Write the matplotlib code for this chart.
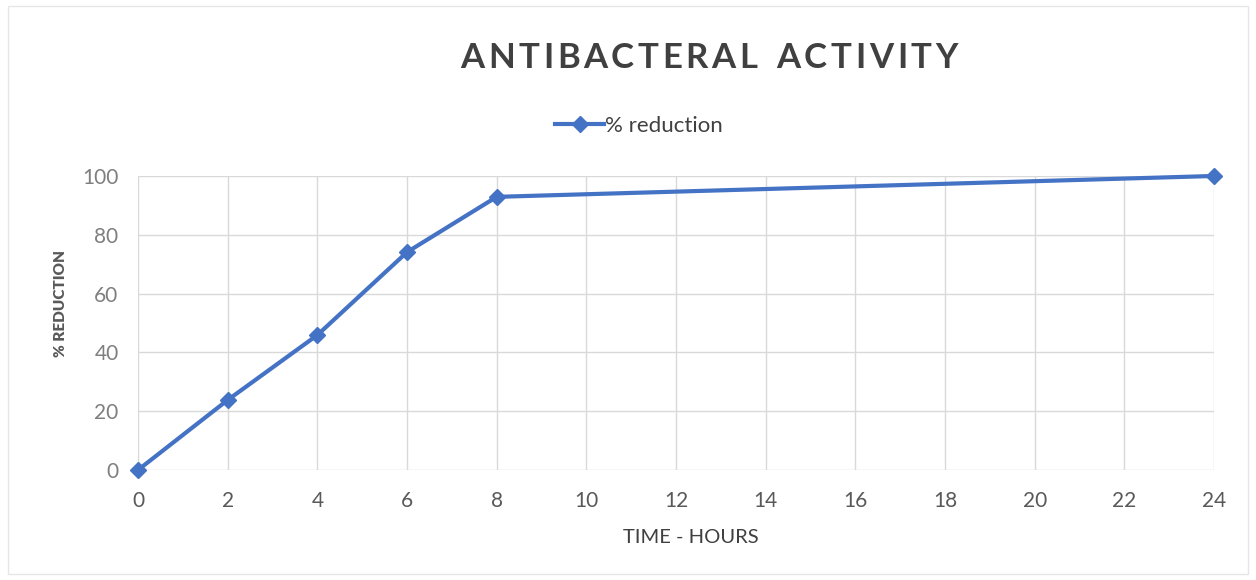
import matplotlib.pyplot as plt
from matplotlib.patches import Rectangle

# x axis is categorical in the original (24 sits right after 22)
time_labels = ["0", "2", "4", "6", "8", "10", "12", "14", "16", "18", "20", "22", "24"]
hours = ["0", "2", "4", "6", "8", "24"]
reduction = [0, 23.8, 45.9, 74.1, 92.9, 100]

plt.rcParams["font.family"] = ["Lato", "DejaVu Sans"]


def spaced_title(fig, xc, y, s, gap_px, **kw):
    # draw char by char so the letters get the wide tracking of the original
    r = fig.canvas.get_renderer()
    widths = []
    for ch in s:
        t = fig.text(0, 0, ch, **kw)
        widths.append(t.get_window_extent(r).width if ch != " " else None)
        t.remove()
    space_w = fig.text(0, 0, "n", **kw)
    sw = space_w.get_window_extent(r).width * 0.6
    space_w.remove()
    widths = [w if w is not None else sw for w in widths]
    total = sum(widths) + gap_px * (len(s) - 1)
    W = fig.get_figwidth() * fig.dpi
    x = xc * W - total / 2
    for ch, w in zip(s, widths):
        fig.text(x / W, y, ch, ha="left", va="center", **kw)
        x += w + gap_px


fig = plt.figure(figsize=(12.56, 5.8), dpi=100)
ax = fig.add_axes([0.1099, 0.1897, 0.8567, 0.5069])

pos = [time_labels.index(h) for h in hours]
line, = ax.plot(pos, reduction, color="#4472C4", linewidth=3, marker="D",
                markersize=8.5, markerfacecolor="#4472C4", markeredgecolor="#4472C4",
                label="% reduction", zorder=3, clip_on=False)

ax.set_xlim(0, len(time_labels) - 1)
ax.set_ylim(0, 100)
ax.set_xticks(range(len(time_labels)))
ax.set_xticklabels(time_labels)
ax.set_yticks([0, 20, 40, 60, 80, 100])
ax.grid(True, color="#d9d9d9", linewidth=1)
ax.set_axisbelow(True)
for s in ax.spines.values():
    s.set_visible(False)
ax.tick_params(length=0, labelsize=15, labelcolor="#7f7f7f")
ax.tick_params(axis="x", pad=15, labelcolor="#595959")
ax.tick_params(axis="y", pad=14)

ax.set_xlabel("TIME - HOURS", fontsize=14.5, color="#404040")
ax.xaxis.set_label_coords(0.5135, -0.2)
ax.set_ylabel("% REDUCTION", fontsize=11, color="#595959", fontweight="heavy")
ax.yaxis.set_label_coords(-0.066, 0.565)

spaced_title(fig, 0.5645, 0.90, "ANTIBACTERAL ACTIVITY", 3.6,
             fontsize=25, fontweight="bold", color="#404040")
fig.legend(handles=[line], loc="center", bbox_to_anchor=(0.509, 0.783), frameon=False,
           fontsize=16, handlelength=2.2, handletextpad=0.05, labelcolor="#404040")

fig.patches.append(Rectangle((0.006, 0.01), 0.988, 0.98, transform=fig.transFigure,
                             fill=False, edgecolor="#e6e6e6", linewidth=1))

fig.savefig("out.png", dpi=100)
